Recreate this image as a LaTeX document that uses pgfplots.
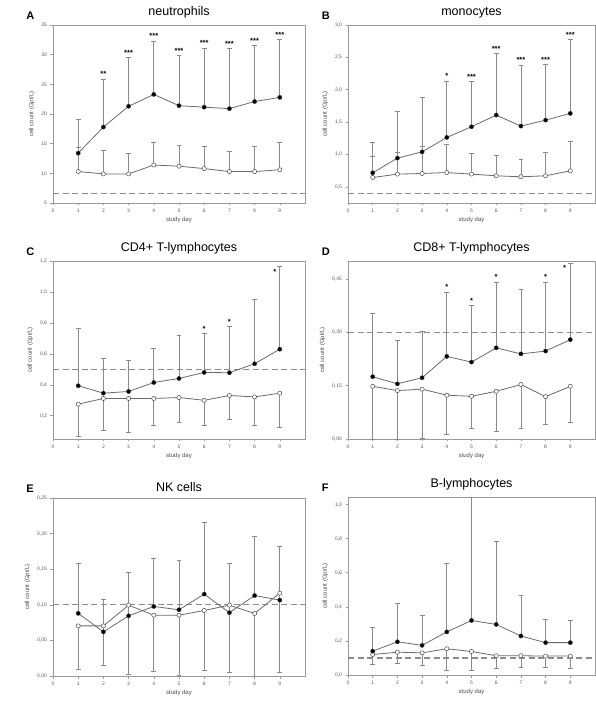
\documentclass[border=0pt]{standalone}
\usepackage{fontspec}
\setmainfont{Liberation Sans}
\usepackage{pgfplots}
\usepackage{pgfplotstable}
\pgfplotsset{compat=1.18}

\definecolor{linec}{HTML}{6A6A6A}
\definecolor{barc}{HTML}{8A8A8A}
\definecolor{framec}{HTML}{9A9A9A}
\definecolor{refc}{HTML}{8C8C8C}

% panel A: neutrophils (mean, upper bound)
\pgfplotstableread{
d m u
1 13.4 19.1
2 17.8 25.9
3 21.3 29.5
4 23.3 32.3
5 21.4 29.8
6 21.15 31.1
7 20.9 31.0
8 22.1 31.5
9 22.8 32.6
}\Af
\pgfplotstableread{
d m u
1 10.3 14.3
2 9.9 13.9
3 9.9 13.3
4 11.4 15.2
5 11.2 14.7
6 10.8 14.5
7 10.3 13.7
8 10.3 14.5
9 10.6 15.2
}\Ao
\pgfplotstableread{
d u s
2 25.9 **
3 29.5 ***
4 32.3 ***
5 29.8 ***
6 31.1 ***
7 31.0 ***
8 31.5 ***
9 32.6 ***
}\As

% panel B: monocytes
\pgfplotstableread{
d m u
1 0.716 1.186
2 0.943 1.66
3 1.04 1.88
4 1.263 2.134
5 1.428 2.124
6 1.608 2.56
7 1.438 2.38
8 1.53 2.39
9 1.634 2.78
}\Bf
\pgfplotstableread{
d m u
1 0.644 0.964
2 0.696 1.04
3 0.706 1.12
4 0.72 1.16
5 0.696 1.015
6 0.67 0.98
7 0.655 0.93
8 0.67 1.03
9 0.747 1.21
}\Bo
\pgfplotstableread{
d u s
4 2.134 *
5 2.124 ***
6 2.56 ***
7 2.38 ***
8 2.39 ***
9 2.78 ***
}\Bs

% panel C: CD4+ (open series: mean, lower bound)
\pgfplotstableread{
d m u
1 0.394 0.766
2 0.346 0.572
3 0.357 0.560
4 0.415 0.633
5 0.441 0.720
6 0.480 0.730
7 0.478 0.778
8 0.536 0.949
9 0.630 1.164
}\Cf
\pgfplotstableread{
d m l
1 0.275 0.070
2 0.312 0.109
3 0.312 0.096
4 0.312 0.135
5 0.318 0.156
6 0.300 0.135
7 0.331 0.178
8 0.322 0.135
9 0.346 0.126
}\Co
\pgfplotstableread{
d u s
6 0.730 *
7 0.778 *
8.8 1.097 *
}\Cs

% panel D: CD8+
\pgfplotstableread{
d m u
1 0.175 0.352
2 0.155 0.277
3 0.172 0.303
4 0.232 0.413
5 0.216 0.375
6 0.256 0.441
7 0.239 0.420
8 0.247 0.441
9 0.279 0.492
}\Df
\pgfplotstableread{
d m l
1 0.148 0.000
2 0.136 0.000
3 0.140 0.003
4 0.123 0.012
5 0.120 0.029
6 0.134 0.022
7 0.153 0.029
8 0.119 0.040
9 0.148 0.047
}\Do
\pgfplotstableread{
d u s
4 0.413 *
5 0.375 *
6 0.441 *
8 0.441 *
8.77 0.467 *
}\Ds

% panel E: NK cells
\pgfplotstableread{
d m u
1 0.088 0.158
2 0.062 0.107
3 0.0845 0.1455
4 0.0977 0.165
5 0.093 0.162
6 0.115 0.216
7 0.089 0.158
8 0.113 0.196
9 0.1066 0.182
}\Ef
\pgfplotstableread{
d m l
1 0.0704 0.010
2 0.0704 0.015
3 0.0995 0.002
4 0.0854 0.007
5 0.0854 0.001
6 0.092 0.0085
7 0.0995 0.0056
8 0.0878 0.000
9 0.1164 0.0056
}\Eo

% panel F: B-lymphocytes
\pgfplotstableread{
d m u
1 0.140 0.277
2 0.195 0.420
3 0.174 0.348
4 0.253 0.658
5 0.320 1.043
6 0.297 0.785
7 0.229 0.470
8 0.190 0.328
9 0.190 0.322
}\Ff
\pgfplotstableread{
d m l
1 0.120 0.061
2 0.134 0.069
3 0.130 0.055
4 0.154 0.026
5 0.138 0.030
6 0.113 0.040
7 0.113 0.045
8 0.111 0.043
9 0.111 0.040
}\Fo

\pgfplotsset{
  panel/.style={
    scale only axis, anchor=south west,
    height=178pt,
    xmin=0, xmax=10, xtick={0,...,9},
    axis line style={draw=framec, line width=0.8pt},
    tick align=outside, tick pos=left,
    major tick length=2.5pt,
    tick style={draw=framec, line width=0.6pt},
    ticklabel style={font=\fontsize{5}{6}\selectfont, text=black!65},
    /pgf/number format/assume math mode=true,
    /pgf/number format/use comma,
    title style={font=\fontsize{12.5}{14}\selectfont, yshift=-3pt},
    xlabel={study day}, ylabel={cell count (Gpt/L)},
    label style={font=\fontsize{6}{7}\selectfont, text=black!70},
    xlabel style={yshift=2pt},
    clip=false,
  },
  ebars/.style={
    /pgfplots/error bars/y explicit,
    /pgfplots/error bars/y dir=#1,
    /pgfplots/error bars/error bar style={draw=barc, line width=0.7pt, solid},
    /pgfplots/error bars/error mark options={rotate=90, draw=barc, line width=0.7pt, mark size=2.4pt}},
  filled/.style={color=linec, line width=0.8pt, mark=*,
    mark options={fill=black, draw=black!80, mark size=2.1pt, line width=0.4pt},
    ebars=plus},
  openup/.style={color=linec, line width=0.8pt, mark=*,
    mark options={fill=white, draw=black!70, mark size=2.1pt, line width=0.5pt},
    ebars=plus},
  opendown/.style={color=linec, line width=0.8pt, mark=*,
    mark options={fill=white, draw=black!70, mark size=2.1pt, line width=0.5pt},
    ebars=minus},
  refline/.style={draw=refc, line width=1.1pt, dash pattern=on 6pt off 3.5pt, forget plot},
  stars/.style={only marks, mark=none, nodes near coords, point meta=explicit symbolic,
    nodes near coords style={anchor=south, inner sep=2pt, text=black,
      font=\bfseries\fontsize{7.5}{8}\selectfont}},
}
\tikzset{letter/.style={font=\bfseries\fontsize{11}{12}\selectfont, anchor=base west}}

\begin{document}
\begin{tikzpicture}
\useasboundingbox (0pt,0pt) rectangle (595pt,701pt);

% A
\begin{axis}[panel, at={(53pt,498pt)}, width=252pt, title={neutrophils},
  ymin=5, ymax=35, ytick={5,10,...,35}]
  \addplot[refline] coordinates {(0,6.58) (10,6.58)};
  \addplot[openup] table[x=d, y=m, y error expr=\thisrow{u}-\thisrow{m}] {\Ao};
  \addplot[filled] table[x=d, y=m, y error expr=\thisrow{u}-\thisrow{m}] {\Af};
  \addplot[stars] table[x=d, y=u, meta=s] {\As};
  \node[letter] at (rel axis cs:-0.12,1.03) {A};
\end{axis}

% B
\begin{axis}[panel, at={(348pt,498pt)}, width=247pt, title={monocytes},
  ymin=0.25, ymax=3.0, ytick={0.5,1.0,...,3.0},
  yticklabel style={/pgf/number format/.cd, fixed, fixed zerofill, precision=1}]
  \addplot[refline] coordinates {(0,0.40) (10,0.40)};
  \addplot[openup] table[x=d, y=m, y error expr=\thisrow{u}-\thisrow{m}] {\Bo};
  \addplot[filled] table[x=d, y=m, y error expr=\thisrow{u}-\thisrow{m}] {\Bf};
  \addplot[stars] table[x=d, y=u, meta=s] {\Bs};
  \node[letter] at (rel axis cs:-0.12,1.03) {B};
\end{axis}

% C
\begin{axis}[panel, at={(53pt,262pt)}, width=252pt, title={CD4+ T-lymphocytes},
  ymin=0.05, ymax=1.2, ytick={0.2,0.4,...,1.2},
  yticklabel style={/pgf/number format/.cd, fixed, fixed zerofill, precision=1}]
  \addplot[refline] coordinates {(0,0.5) (10,0.5)};
  \addplot[opendown] table[x=d, y=m, y error expr=\thisrow{m}-\thisrow{l}] {\Co};
  \addplot[filled] table[x=d, y=m, y error expr=\thisrow{u}-\thisrow{m}] {\Cf};
  \addplot[stars] table[x=d, y=u, meta=s] {\Cs};
  \node[letter] at (rel axis cs:-0.12,1.03) {C};
\end{axis}

% D
\begin{axis}[panel, at={(348pt,262pt)}, width=247pt, title={CD8+ T-lymphocytes},
  ymin=0, ymax=0.5, ytick={0,0.15,0.30,0.45},
  yticklabel style={/pgf/number format/.cd, fixed, fixed zerofill, precision=2}]
  \addplot[refline] coordinates {(0,0.3) (10,0.3)};
  \addplot[opendown] table[x=d, y=m, y error expr=\thisrow{m}-\thisrow{l}] {\Do};
  \addplot[filled] table[x=d, y=m, y error expr=\thisrow{u}-\thisrow{m}] {\Df};
  \addplot[stars] table[x=d, y=u, meta=s] {\Ds};
  \node[letter] at (rel axis cs:-0.12,1.03) {D};
\end{axis}

% E
\begin{axis}[panel, at={(53pt,25pt)}, width=252pt, title={NK cells},
  ymin=0, ymax=0.25, ytick={0,0.05,...,0.25},
  yticklabel style={/pgf/number format/.cd, fixed, fixed zerofill, precision=2}]
  \addplot[refline] coordinates {(0,0.1) (10,0.1)};
  \addplot[opendown] table[x=d, y=m, y error expr=\thisrow{m}-\thisrow{l}] {\Eo};
  \addplot[filled] table[x=d, y=m, y error expr=\thisrow{u}-\thisrow{m}] {\Ef};
  \node[letter] at (rel axis cs:-0.12,1.03) {E};
\end{axis}

% F
\begin{axis}[panel, at={(348pt,26pt)}, width=247pt, title={B-lymphocytes},
  ymin=0, ymax=1.045, ytick={0,0.2,...,1.0},
  yticklabel style={/pgf/number format/.cd, fixed, fixed zerofill, precision=1}]
  \addplot[refline] coordinates {(0,0.1) (10,0.1)};
  \addplot[opendown] table[x=d, y=m, y error expr=\thisrow{m}-\thisrow{l}] {\Fo};
  \addplot[filled] table[x=d, y=m, y error expr=\thisrow{u}-\thisrow{m}] {\Ff};
  \node[letter] at (rel axis cs:-0.12,1.03) {F};
\end{axis}
\end{tikzpicture}
\end{document}
